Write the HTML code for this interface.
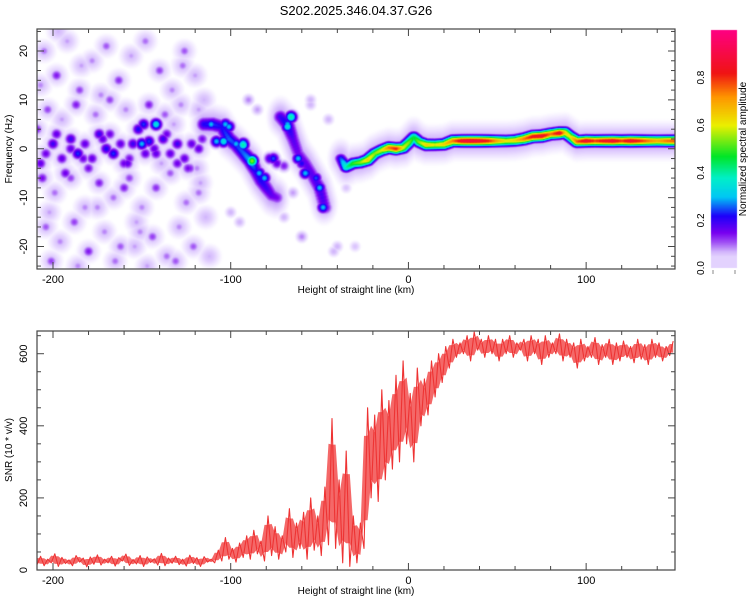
<!DOCTYPE html>
<html><head><meta charset="utf-8"><style>
body{margin:0;background:#fff;font-family:"Liberation Sans",sans-serif;}
#wrap{position:relative;width:750px;height:600px;overflow:hidden;}
canvas{position:absolute;left:0;top:0;}
</style></head><body>
<div id="wrap">
<canvas id="spec" width="750" height="600"></canvas>
<svg id="svg" width="750" height="600" style="position:absolute;left:0;top:0"></svg>
</div>
<script>
// ---------- data ----------
const xRange=[-209,150];
const fRange=[-24.6,24.5];
const snrRange=[0,663];
const xTicks=[-200,-100,0,100];
const fTicks=[-20,-10,0,10,20];
const snrTicks=[0,200,400,600];
const cbTicks=[0,0.2,0.4,0.6,0.8];
// main ridge (continuous)
const mainKm=[-38,-35,-31,-27,-23,-19,-15,-11,-7,-3,0,3,6,10,15,20,25,30,35,40,45,50,55,60,65,70,75,80,85,88,91,95,100,105,110,115,120,125,130,135,140,145,150];
const mainHz=[-2,-3.8,-3,-2.8,-2.3,-1,-0.3,0.2,0,0.2,1.2,2.4,1.4,0.8,0.8,0.9,1.6,1.6,1.6,1.6,1.6,1.6,1.6,1.7,2,2.5,2.6,3,3.2,3.3,2.5,1.5,1.6,1.6,1.6,1.6,1.6,1.6,1.6,1.6,1.6,1.6,1.6];
const mainAmp=[0.25,0.4,0.5,0.55,0.65,0.55,0.6,0.75,0.82,0.6,0.55,0.45,0.55,0.65,0.6,0.65,0.75,0.88,0.9,0.88,0.82,0.7,0.62,0.65,0.75,0.85,0.88,0.75,0.88,0.65,0.6,0.78,0.88,0.8,0.85,0.88,0.8,0.88,0.82,0.75,0.7,0.75,0.78];
// descending ridge 1
const r1Km=[-115,-110,-105,-101,-97,-93,-89,-86,-83,-80,-77,-74];
const r1Hz=[5,5,4.5,2,0.8,-0.8,-2.4,-4.5,-6.5,-8,-9.5,-10];
const r1Amp=[0.22,0.24,0.22,0.26,0.24,0.26,0.3,0.22,0.22,0.2,0.17,0.15];
// descending ridge 2
const r2Km=[-72,-68,-65,-62,-58,-54,-50,-47];
const r2Hz=[6.5,5,2,-1,-3,-5.5,-8,-12];
const r2Amp=[0.2,0.24,0.18,0.16,0.17,0.18,0.2,0.18];
// isolated blobs [km, Hz, amp]
const blobKm=[-207,-200,-195,-190,-186,-182,-178,-174,-170,-166,-162,-158,-155,-152,-149,-146,-142,-138,-134,-130,-126,-122,-118,-108,-78,-74,-70,-55,-40,
-205,-198,-192,-185,-178,-170,-163,-156,-148,-140,-133,-126,-120,-115,-203,-195,-187,-176,-168,-159,-146,-137,-128,-118,
-206,-199,-190,-182,-174,-166,-157,-150,-142,-134,-125,-117,-204,-196,-188,-180,-171,-162,-153,-144,-136,-129,-121,-114,
-201,-186,-165,-147,-131,-112,-90,-95,-70,-60,-42,-55,-85,-65,-45,-100,-35,-30,
-209,-193,-180,-160,-143,-123,-207,-184,-168,-151,-132,-118,-197,-175,-139,-127,-202,-173,-154,-119,
-93,-88,-66,-62,-57,-68,-104,-97,-81,-111,-101,-103,-89,-50,-60,-76,-48,-84,-52,
-142,-150,-93,-68,-58,-88,
-198,-183,-172,-160,-148,-136,-124,-204,-190,-168,-157,-143,-130,-116];
const blobHz=[-3,1,-2,2,-1,1,-2,3,0,-1,1,-3,1,4,5,1.5,-1,2,-1,1,-2,1,0,1.5,-2,-3,-3.5,10,-20,
20,15,22,12,18,21,14,19,22,16,12,20,15,10,8,6,9,7,10,8,9,7,9,8,
-6,-9,-6,-12,-7,-10,-6,-12,-8,-5,-11,-7,-16,-19,-15,-21,-17,-20,-15,-18,-22,-16,-20,-14,
-23,-24,-23,-24,-23,-22,10,-15,-14,-18,-21,9,8,-9,6,-13,-8,-20,
4,-5,-4,-8,5,-4,13,17,3,-17,5,-9,24,-12,-3,17,-13,11,-20,-4,
1,-2.5,6.5,-2,-5,5,1.5,1,-6,5,4.5,5,-2.4,-8,-3,-2,-12,-5,-6,
5,1,0.8,4.5,-5,-2.2,
3,-2,2,-3,-1,3,-4,-1,0,3,-2,0,-3,2];
const blobAmp=[0.17,0.2,0.17,0.2,0.24,0.17,0.17,0.2,0.22,0.24,0.17,0.17,0.2,0.22,0.24,0.24,0.17,0.2,0.17,0.2,0.17,0.17,0.17,0.3,0.2,0.17,0.14,0.07,0.07,
0.1,0.14,0.08,0.12,0.09,0.11,0.13,0.08,0.1,0.12,0.09,0.11,0.08,0.07,0.12,0.08,0.14,0.1,0.12,0.09,0.14,0.11,0.09,0.08,
0.15,0.1,0.12,0.09,0.14,0.1,0.12,0.09,0.13,0.11,0.1,0.08,0.11,0.09,0.12,0.14,0.09,0.11,0.08,0.12,0.1,0.09,0.11,0.07,
0.12,0.09,0.1,0.08,0.11,0.07,0.09,0.07,0.07,0.09,0.07,0.07,0.08,0.08,0.07,0.07,0.06,0.06,
0.14,0.16,0.15,0.14,0.15,0.14,0.09,0.08,0.1,0.09,0.08,0.1,0.07,0.09,0.08,0.1,0.08,0.09,0.08,0.09,
0.35,0.55,0.4,0.3,0.25,0.3,0.35,0.3,0.3,0.3,0.3,0.3,0.3,0.3,0.22,0.25,0.3,0.3,0.25,
0.35,0.3,0.4,0.35,0.3,0.35,
0.17,0.16,0.17,0.16,0.17,0.16,0.15,0.16,0.17,0.16,0.15,0.17,0.16,0.15];
// SNR series, km from -209 step 2
const snrStartKm=-209, snrStepKm=2;
const snrValues=[15,38,12,30,20,45,10,35,18,28,
12,40,22,33,9,36,16,42,14,30,
20,38,11,34,25,44,13,29,17,40,
10,36,21,31,14,46,12,33,19,38,
15,30,11,41,18,34,10,37,22,30,
20,55,25,90,30,60,22,75,35,95,
30,110,45,80,25,150,40,120,30,95,
50,170,35,130,60,160,30,200,55,150,
40,230,70,420,60,250,20,330,10,150,
20,130,60,450,200,430,190,500,250,470,
280,540,300,580,350,490,300,560,400,530,
430,580,480,600,520,620,560,640,590,630,
600,650,580,660,610,640,590,650,600,640,
580,640,600,650,590,630,610,640,580,650,
600,640,570,650,590,630,600,655,580,640,
590,630,560,640,580,620,590,645,570,625,
590,640,570,630,580,635,590,620,575,640,
585,625,570,640,590,630,580,620,595,635];

// ---------- layout ----------
const P1={l:37,r:675,t:29,b:269};
const P2={l:37,r:675,t:331,b:570};
const CB={l:711,r:737,t:30,b:268};
const sx=(v,P)=>P.l+(v-xRange[0])/(xRange[1]-xRange[0])*(P.r-P.l);
const sf=v=>P1.b-(v-fRange[0])/(fRange[1]-fRange[0])*(P1.b-P1.t);
const ss=v=>P2.b-(v-snrRange[0])/(snrRange[1]-snrRange[0])*(P2.b-P2.t);

// colormap
const stops=[[0,255,255,255],[0.015,255,255,255],[0.04,236,224,255],[0.07,210,182,252],[0.11,160,80,245],[0.15,120,0,240],[0.22,30,0,250],[0.3,0,200,245],[0.38,0,240,200],[0.47,0,230,40],[0.6,235,240,0],[0.72,255,150,0],[0.82,240,20,20],[1,255,0,130]];
function cmap(a){a=Math.max(0,Math.min(1,a));for(let i=1;i<stops.length;i++){if(a<=stops[i][0]){const s0=stops[i-1],s1=stops[i];const t=(a-s0[0])/(s1[0]-s0[0]);return [s0[1]+t*(s1[1]-s0[1]),s0[2]+t*(s1[2]-s0[2]),s0[3]+t*(s1[3]-s0[3])];}}return [255,0,130];}

// build blob list in pixel space
const blobs=[];const halos=[];
function addRidge(km,hz,amp,sxk,sfh,ha){for(let i=0;i<km.length-1;i++){const n=6;for(let j=0;j<n;j++){const t=j/n;const X=sx(km[i]+t*(km[i+1]-km[i]),P1),Y=sf(hz[i]+t*(hz[i+1]-hz[i]));blobs.push([X,Y,amp[i]+t*(amp[i+1]-amp[i]),sxk,sfh]);halos.push([X,Y,ha,8,12]);}}const k=km.length-1;blobs.push([sx(km[k],P1),sf(hz[k]),amp[k],sxk,sfh]);}
addRidge(mainKm,mainHz,mainAmp,4,3.4,0.08);
addRidge(r1Km,r1Hz,r1Amp,5,5,0.09);
addRidge(r2Km,r2Hz,r2Amp,5,5,0.09);
for(let i=0;i<blobKm.length;i++)blobs.push([sx(blobKm[i],P1),sf(blobHz[i]),blobAmp[i],4,4]);
for(let i=0;i<blobKm.length;i++)if(blobKm[i]<-108)halos.push([sx(blobKm[i],P1),sf(blobHz[i]),0.065,8,8]);

const cv=document.getElementById('spec');const ctx=cv.getContext('2d');
const W=P1.r-P1.l,H=P1.b-P1.t;
const img=ctx.createImageData(W,H);
for(let y=0;y<H;y++){for(let x=0;x<W;x++){const px=P1.l+x+0.5,py=P1.t+y+0.5;let m=0;
for(const b of blobs){const dx=(px-b[0])/b[3],dy=(py-b[1])/b[4];const d=dx*dx+dy*dy;if(d<16){const v=b[2]*Math.exp(-d*0.5);if(v>m)m=v;}}
let h=0;for(const b of halos){const dx=(px-b[0])/b[3],dy=(py-b[1])/b[4];const d=dx*dx+dy*dy;if(d<9){const v=b[2]*Math.exp(-d*0.5);if(v>h)h=v;}}
if(h>m)m=h;
const c=cmap(m);const o=(y*W+x)*4;img.data[o]=c[0];img.data[o+1]=c[1];img.data[o+2]=c[2];img.data[o+3]=255;}}
ctx.putImageData(img,P1.l,P1.t);
// colorbar
for(let y=CB.t;y<CB.b;y++){const a=(CB.b-y)/(CB.b-CB.t);const c=cmap(a<0.05?0.05:a);ctx.fillStyle=`rgb(${c[0]|0},${c[1]|0},${c[2]|0})`;ctx.fillRect(CB.l,y,CB.r-CB.l,1);}

// ---------- svg ----------
const NS='http://www.w3.org/2000/svg';const svg=document.getElementById('svg');
function el(tag,attrs,parent){const e=document.createElementNS(NS,tag);for(const k in attrs)e.setAttribute(k,attrs[k]);(parent||svg).appendChild(e);return e;}
function text(str,x,y,opts){const t=el('text',Object.assign({x:x,y:y,'font-size':11,'font-family':'Liberation Sans, sans-serif',fill:'#000','text-anchor':'middle'},opts||{}));t.textContent=str;return t;}

const title=text('S202.2025.346.04.37.G26',356,15,{'font-size':13});



function axes(P,yTicks,ys,yMinorStep,yLo,yHi,name){
  const g=el('g',{});
  
  
  el('rect',{x:P.l,y:P.t,width:P.r-P.l,height:P.b-P.t,fill:'none',stroke:'#444','stroke-width':1.2},g);
  for(let v=-200;v<=140;v+=20){const X=sx(v,P);const L=(v%100===0)?7:4;
    el('line',{x1:X,x2:X,y1:P.b,y2:P.b-L,stroke:'#444'},g);el('line',{x1:X,x2:X,y1:P.t,y2:P.t+L,stroke:'#444'},g);}
  xTicks.forEach(v=>{const t=text(String(v),sx(v,P),P.b+14,{});g.appendChild(t);});
  for(let v=yLo;v<=yHi;v+=yMinorStep){const Y=ys(v);const L=yTicks.includes(v)?7:4;
    el('line',{x1:P.l,x2:P.l+L,y1:Y,y2:Y,stroke:'#444'},g);el('line',{x1:P.r,x2:P.r-L,y1:Y,y2:Y,stroke:'#444'},g);}
  yTicks.forEach(v=>{const Y=ys(v);const t=text(String(v),P.l-10,Y,{transform:`rotate(-90 ${P.l-10} ${Y})`});g.appendChild(t);});
  const xl=text('Height of straight line (km)',356,P.b+24,{'font-size':10});
  
  
  g.appendChild(xl);
}
axes(P1,fTicks,sf,2,-24,24,'spectrogram');
const yl1=text('Frequency (Hz)',12,149,{'font-size':10,transform:'rotate(-90 12 149)'});



// SNR band (min/max of neighbouring samples) + line
const pts=snrValues.map((v,i)=>[sx(snrStartKm+i*snrStepKm,P2),v]);
let bandTop='',bandBot='';
for(let i=0;i<pts.length;i++){const a=snrValues[Math.max(0,i-1)],b=snrValues[i],c=snrValues[Math.min(pts.length-1,i+1)];
  const hi=Math.max(a,b,c),lo=Math.min(a,b,c);
  const mhi=hi-(hi-lo)*0.2, mlo=lo+(hi-lo)*0.2;
  bandTop+=(i?'L':'M')+pts[i][0].toFixed(1)+' '+ss(mhi).toFixed(1);
  bandBot='L'+pts[i][0].toFixed(1)+' '+ss(mlo).toFixed(1)+bandBot;}
const band=el('path',{d:bandTop+bandBot+'Z',fill:'#f03535','fill-opacity':0.75,stroke:'none'});


let d='';pts.forEach((p,i)=>{d+=(i?'L':'M')+p[0].toFixed(1)+' '+ss(p[1]).toFixed(1);});
const line=el('path',{d:d,fill:'none',stroke:'#ee3333','stroke-width':1.1,'stroke-linejoin':'round'});


axes(P2,snrTicks,ss,50,0,650,'snr');
const yl2=text('SNR (10 * v/v)',12,450,{'font-size':10,transform:'rotate(-90 12 450)'});



// colorbar ticks
const cbg=el('g',{});


cbTicks.forEach(v=>{const Y=CB.b-v*(CB.b-CB.t);const t=text(v.toFixed(1),704,Y,{'font-size':10,transform:`rotate(-90 704 ${Y})`});cbg.appendChild(t);});
el('line',{x1:713,x2:713,y1:270,y2:274,stroke:'#888'},cbg);el('line',{x1:735,x2:735,y1:270,y2:274,stroke:'#888'},cbg);
const cbl=text('Normalized spectral amplitude',746,149,{'font-size':10,transform:'rotate(-90 746 149)'});


</script>
</body></html>
